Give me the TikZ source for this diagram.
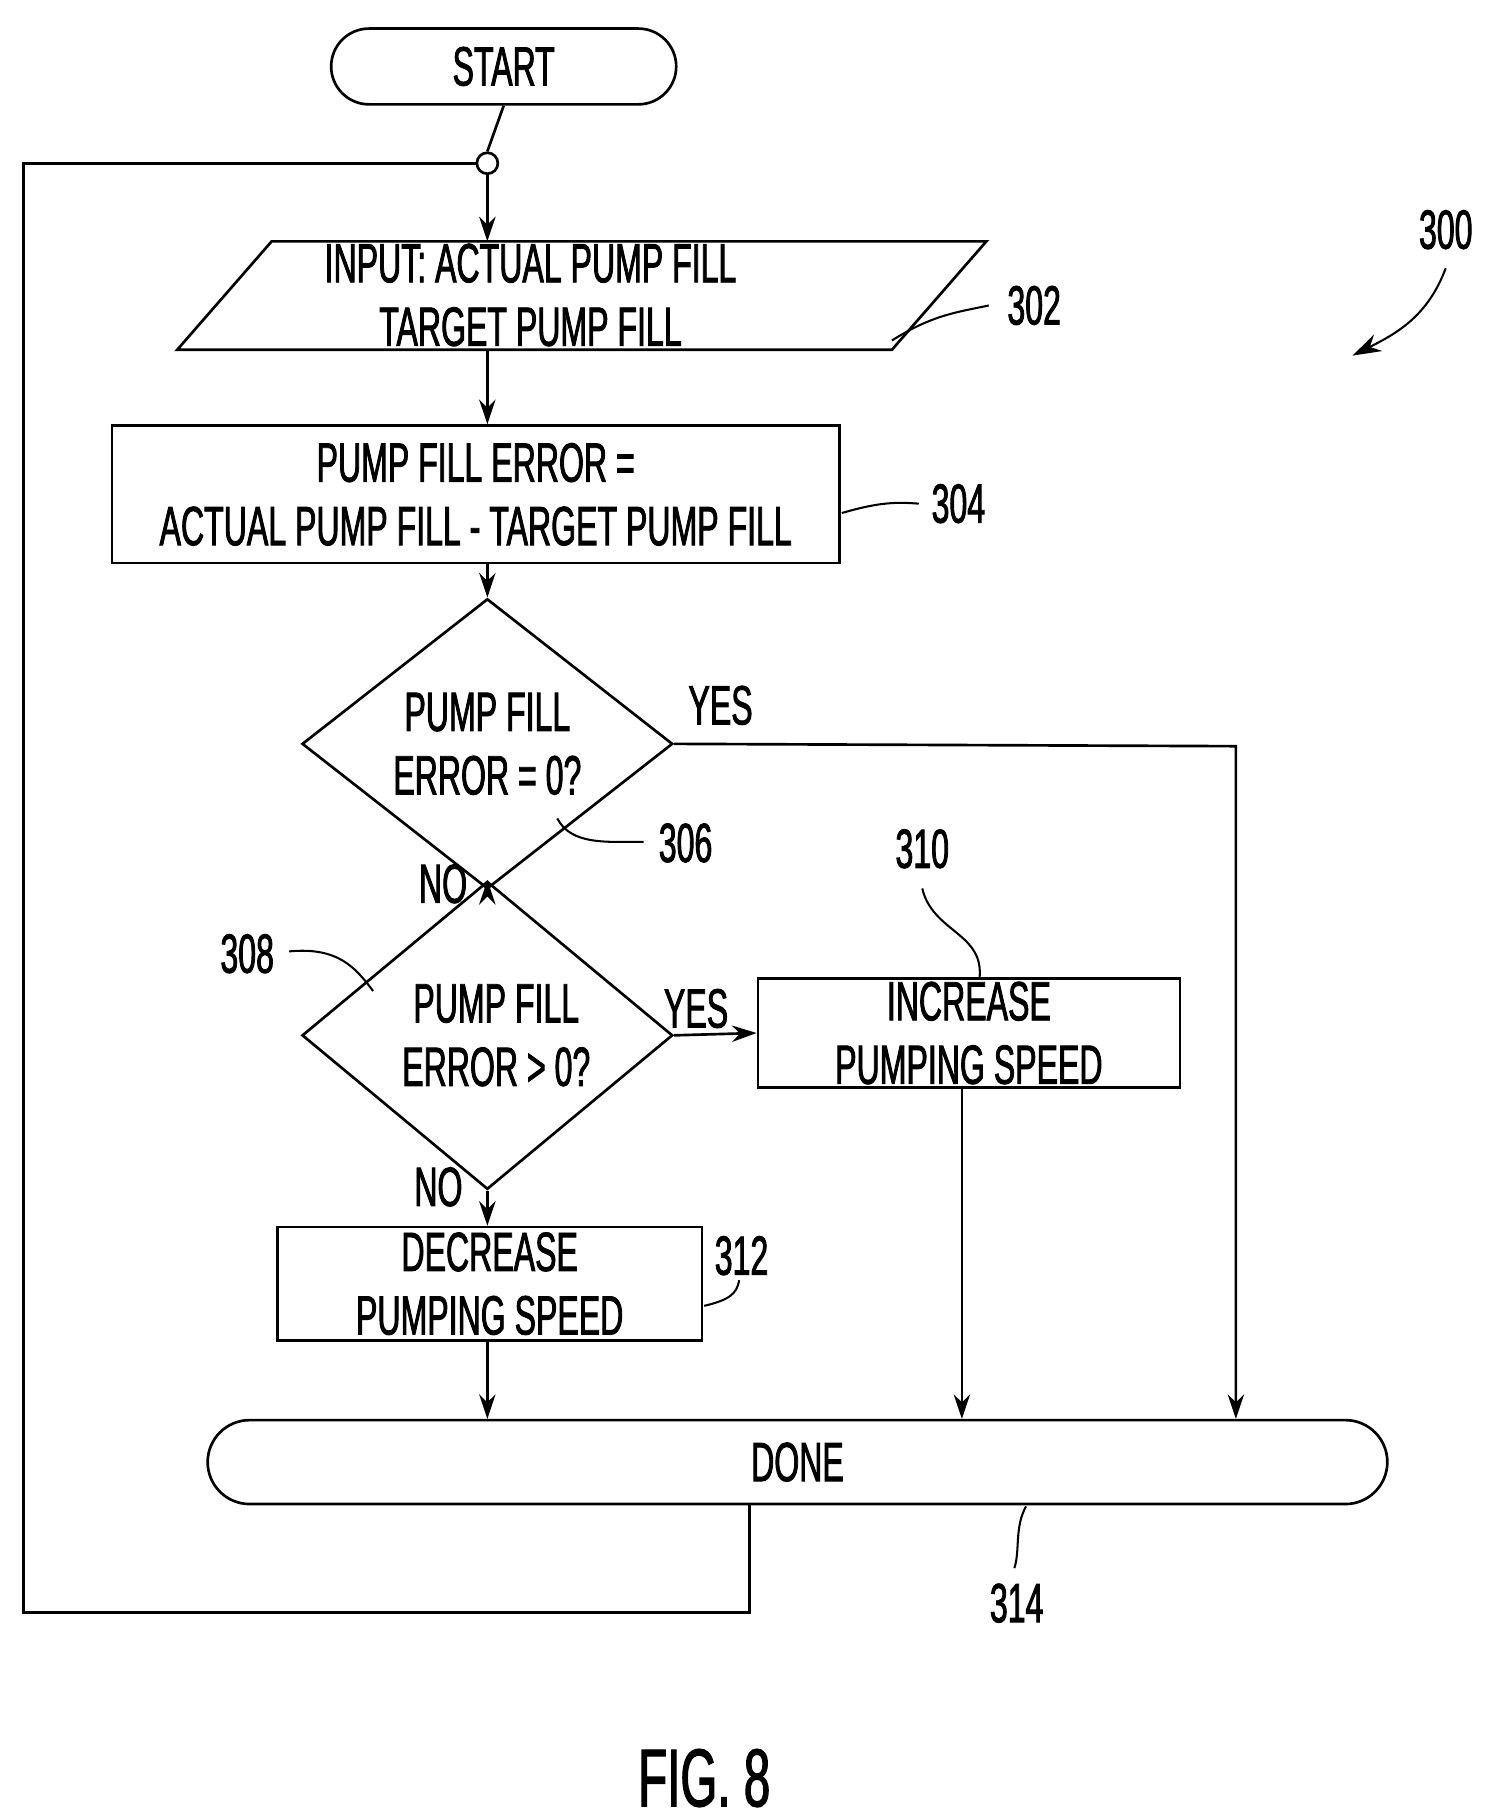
\documentclass[tikz,border=0pt]{standalone}
\usepackage{fontspec}
\setmainfont{Liberation Sans}[FakeStretch=0.58,FakeBold=1.5]
\usetikzlibrary{shapes.geometric,shapes.misc,arrows.meta}
\begin{document}
\begin{tikzpicture}[x=0.02cm,y=-0.02cm,
  line width=1.3pt,
  every node/.style={font=\fontsize{27}{31}\selectfont,align=center,inner sep=0pt},
  box/.style={draw,rectangle},
  term/.style={draw,rounded rectangle},
  dia/.style={draw,diamond},
  arr/.style={-{Stealth[length=12pt,width=8pt]}},
  lead/.style={line width=1pt}]
\useasboundingbox (0,0) rectangle (1280,1561);
\node[term,minimum width=5.92cm,minimum height=1.3cm] (start) at (432,57) {START};
\node[draw,circle,minimum size=0.36cm,fill=white] (c) at (418,140) {};
\draw (233,207) -- (846,207) -- (765,300) -- (152,300) -- cycle;
\node (in) at (455,253) {INPUT: ACTUAL PUMP FILL\\TARGET PUMP FILL};
\coordinate (inT) at (418,207); \coordinate (inB) at (418,300);
\node[box,minimum width=12.48cm,minimum height=2.36cm] (b304) at (408,424) {PUMP FILL ERROR =\\ACTUAL PUMP FILL - TARGET PUMP FILL};
\node[dia,minimum width=6.36cm,minimum height=3.74cm] (d306) at (418,638) {PUMP FILL\\ERROR = 0?};
\node[dia,minimum width=6.36cm,minimum height=3.74cm] (d308) at (418,888) {\ \ PUMP FILL\\\ \ ERROR > 0?};
\node[box,minimum width=7.24cm,minimum height=1.86cm] (b310) at (831,886) {INCREASE\\PUMPING SPEED};
\node[box,minimum width=7.28cm,minimum height=1.94cm] (b312) at (420,1101) {DECREASE\\PUMPING SPEED};
\node[term,minimum width=20.24cm,minimum height=1.44cm] (done) at (684,1254) {DONE};
% connectors
\draw (start.south) -- (c.north);
\draw[arr] (c.south) -- (inT);
\draw[arr] (inB) -- (b304.north -| inB);
\draw[arr] (b304.south -| inB) -- (d306.north);
\draw[arr] (d306.south) -- (d308.north);
\draw[arr] (d308.south) -- (b312.north -| d308.south);
\draw[arr] (d308.east) -- (b310.west);
\draw[arr] (d306.east) -- (1060,640) -- (1060,1217);
\draw[arr] (825,933) -- (825,1217);
\draw[arr] (418,1150) -- (418,1217);
\draw (643,1290) -- (643,1383) -- (20,1383) -- (20,140) -- (c.west);
% labels
\node at (618,605) {YES};
\node at (380,758) {NO};
\node at (597,865) {YES};
\node at (376,1018) {NO};
\node (l302) at (887,262) {302};
\draw[lead] (765,292) .. controls (800,270) and (820,268) .. (848,262);
\node (l304) at (822,432) {304};
\draw[lead] (722,440) .. controls (750,432) and (765,430) .. (788,432);
\node (l306) at (588,723) {306};
\draw[lead] (478,702) .. controls (490,725) and (520,722) .. (552,722);
\node (l308) at (212,818) {308};
\draw[lead] (248,816) .. controls (290,812) and (305,830) .. (320,850);
\node (l310) at (791,728) {310};
\draw[lead] (791,762) .. controls (800,800) and (845,800) .. (840,840);
\node (l312) at (636,1077) {312};
\draw[lead] (604,1120) .. controls (625,1115) and (632,1110) .. (634,1098);
\node (l314) at (872,1375) {314};
\draw[lead] (880,1292) .. controls (870,1310) and (875,1330) .. (870,1345);
\node (l300) at (1240,197) {300};
\draw[lead,-{Stealth[length=14pt,width=9pt]}] (1240,230) .. controls (1225,270) and (1200,285) .. (1160,305);
\node[font=\fontsize{40}{44}\selectfont] (fig) at (604,1525) {FIG. 8};
\end{tikzpicture}
\end{document}
